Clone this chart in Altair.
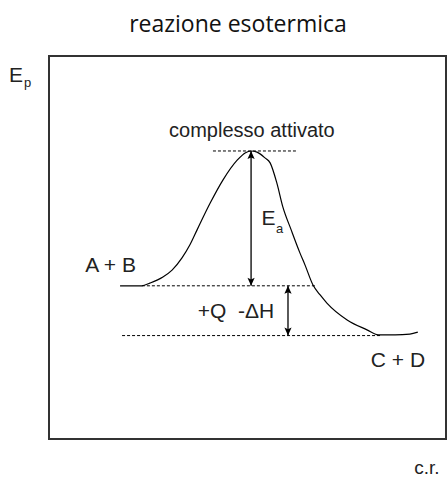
import altair as alt
import pandas as pd

# Energy profile of an exothermic reaction (reaction coordinate vs potential energy)
curve_x = [17.9, 23.4, 25.4, 28.7, 31.0, 33.5, 35.5, 37.3, 40.6, 43.8, 47.4, 49.4, 50.9,
           52.4, 54.4, 55.7, 57.4, 58.9, 61.0, 63.2, 64.5, 66.5, 68.3, 70.0, 75.1, 80.1,
           82.9, 87.2, 90.9, 92.9]
curve_y = [40.0, 40.0, 40.7, 42.3, 44.1, 47.3, 50.7, 54.6, 61.6, 67.6, 72.8, 74.7, 75.2,
           74.9, 73.4, 72.1, 66.8, 60.6, 54.6, 48.6, 45.4, 40.2, 37.6, 35.5, 31.1, 28.5,
           27.2, 27.2, 27.4, 27.9]

# Dotted reference levels: transition state, reactants, products
level_y = [75.2, 40.0, 27.0]
level_start = [41.3, 23.4, 18.4]
level_end = [62.2, 67.0, 83.4]

# Double-headed arrows: activation energy and reaction enthalpy
arrow_x = [50.9, 60.2]
arrow_low = [40.0, 27.0]
arrow_high = [75.2, 40.0]

# Centred labels
center_text = ["complesso attivato", "A + B", "+Q\u00a0\u00a0-ΔH", "C + D", "c.r."]
center_x = [51.1, 15.5, 47.1, 87.9, 95.2]
center_y = [78.9, 43.6, 31.6, 18.8, -9.1]
center_size = [20, 21, 21, 21, 19]

# Symbols with subscripts, left-aligned
sym_text = ["E", "a", "E", "p"]
sym_x = [53.5, 57.2, -10.1, -6.3]
sym_y = [55.9, 53.8, 93.2, 91.9]
sym_size = [21, 13, 21, 13]

title_text = ["reazione esotermica"]
title_x = [47.6]
title_y = [106.3]

curve = pd.DataFrame({"x": curve_x, "y": curve_y, "i": range(len(curve_x))})
levels = pd.DataFrame({"y": level_y, "x": level_start, "x2": level_end})
arrows = pd.DataFrame({"x": arrow_x, "lo": arrow_low, "hi": arrow_high})
centered = pd.DataFrame({"t": center_text, "x": center_x, "y": center_y, "s": center_size})
symbols = pd.DataFrame({"t": sym_text, "x": sym_x, "y": sym_y, "s": sym_size})
heading = pd.DataFrame({"t": title_text, "x": title_x, "y": title_y})

xs = alt.Scale(domain=[0, 100], nice=False, zero=False)
ys = alt.Scale(domain=[0, 100], nice=False, zero=False)


def X(f="x"):
    return alt.X(f"{f}:Q", scale=xs, axis=None)


def Y(f="y"):
    return alt.Y(f"{f}:Q", scale=ys, axis=None)


line = alt.Chart(curve).mark_line(color="black", strokeWidth=1.2, interpolate="monotone").encode(
    x=X(), y=Y(), order="i:Q")

dashes = alt.Chart(levels).mark_rule(color="black", strokeWidth=1, strokeDash=[3, 2]).encode(
    x=X(), x2="x2:Q", y=Y())

shafts = alt.Chart(arrows).mark_rule(color="black", strokeWidth=1.3).encode(
    x=X(), y=Y("lo"), y2="hi:Q")

up_head = "M0,0L0.9,2L0,1.6L-0.9,2Z"
down_head = "M0,0L0.9,-2L0,-1.6L-0.9,-2Z"
heads_up = alt.Chart(arrows).mark_point(shape=up_head, size=64, filled=True, color="black",
                                        opacity=1).encode(x=X(), y=Y("hi"))
heads_down = alt.Chart(arrows).mark_point(shape=down_head, size=64, filled=True, color="black",
                                          opacity=1).encode(x=X(), y=Y("lo"))

center_labels = alt.Chart(centered).mark_text(
    baseline="alphabetic", align="center", font="Liberation Sans", color="#222"
).encode(x=X(), y=Y(), text="t:N", size=alt.Size("s:Q", scale=None, legend=None))

symbol_labels = alt.Chart(symbols).mark_text(
    baseline="alphabetic", align="left", font="Liberation Sans", color="#222"
).encode(x=X(), y=Y(), text="t:N", size=alt.Size("s:Q", scale=None, legend=None))

title_label = alt.Chart(heading).mark_text(
    baseline="alphabetic", align="center", font="Open Sans", fontSize=23, color="#111"
).encode(x=X(), y=Y(), text="t:N")

chart = alt.layer(dashes, shafts, line, heads_up, heads_down,
                  center_labels, symbol_labels, title_label).properties(
    width=397, height=383,
    autosize=alt.AutoSizeParams(type="none"),
    padding={"left": 49, "top": 56, "right": 1, "bottom": 38},
).configure_view(stroke="#333", strokeWidth=2)

chart.save("out.html", embed_options={"renderer": "svg", "actions": False})
